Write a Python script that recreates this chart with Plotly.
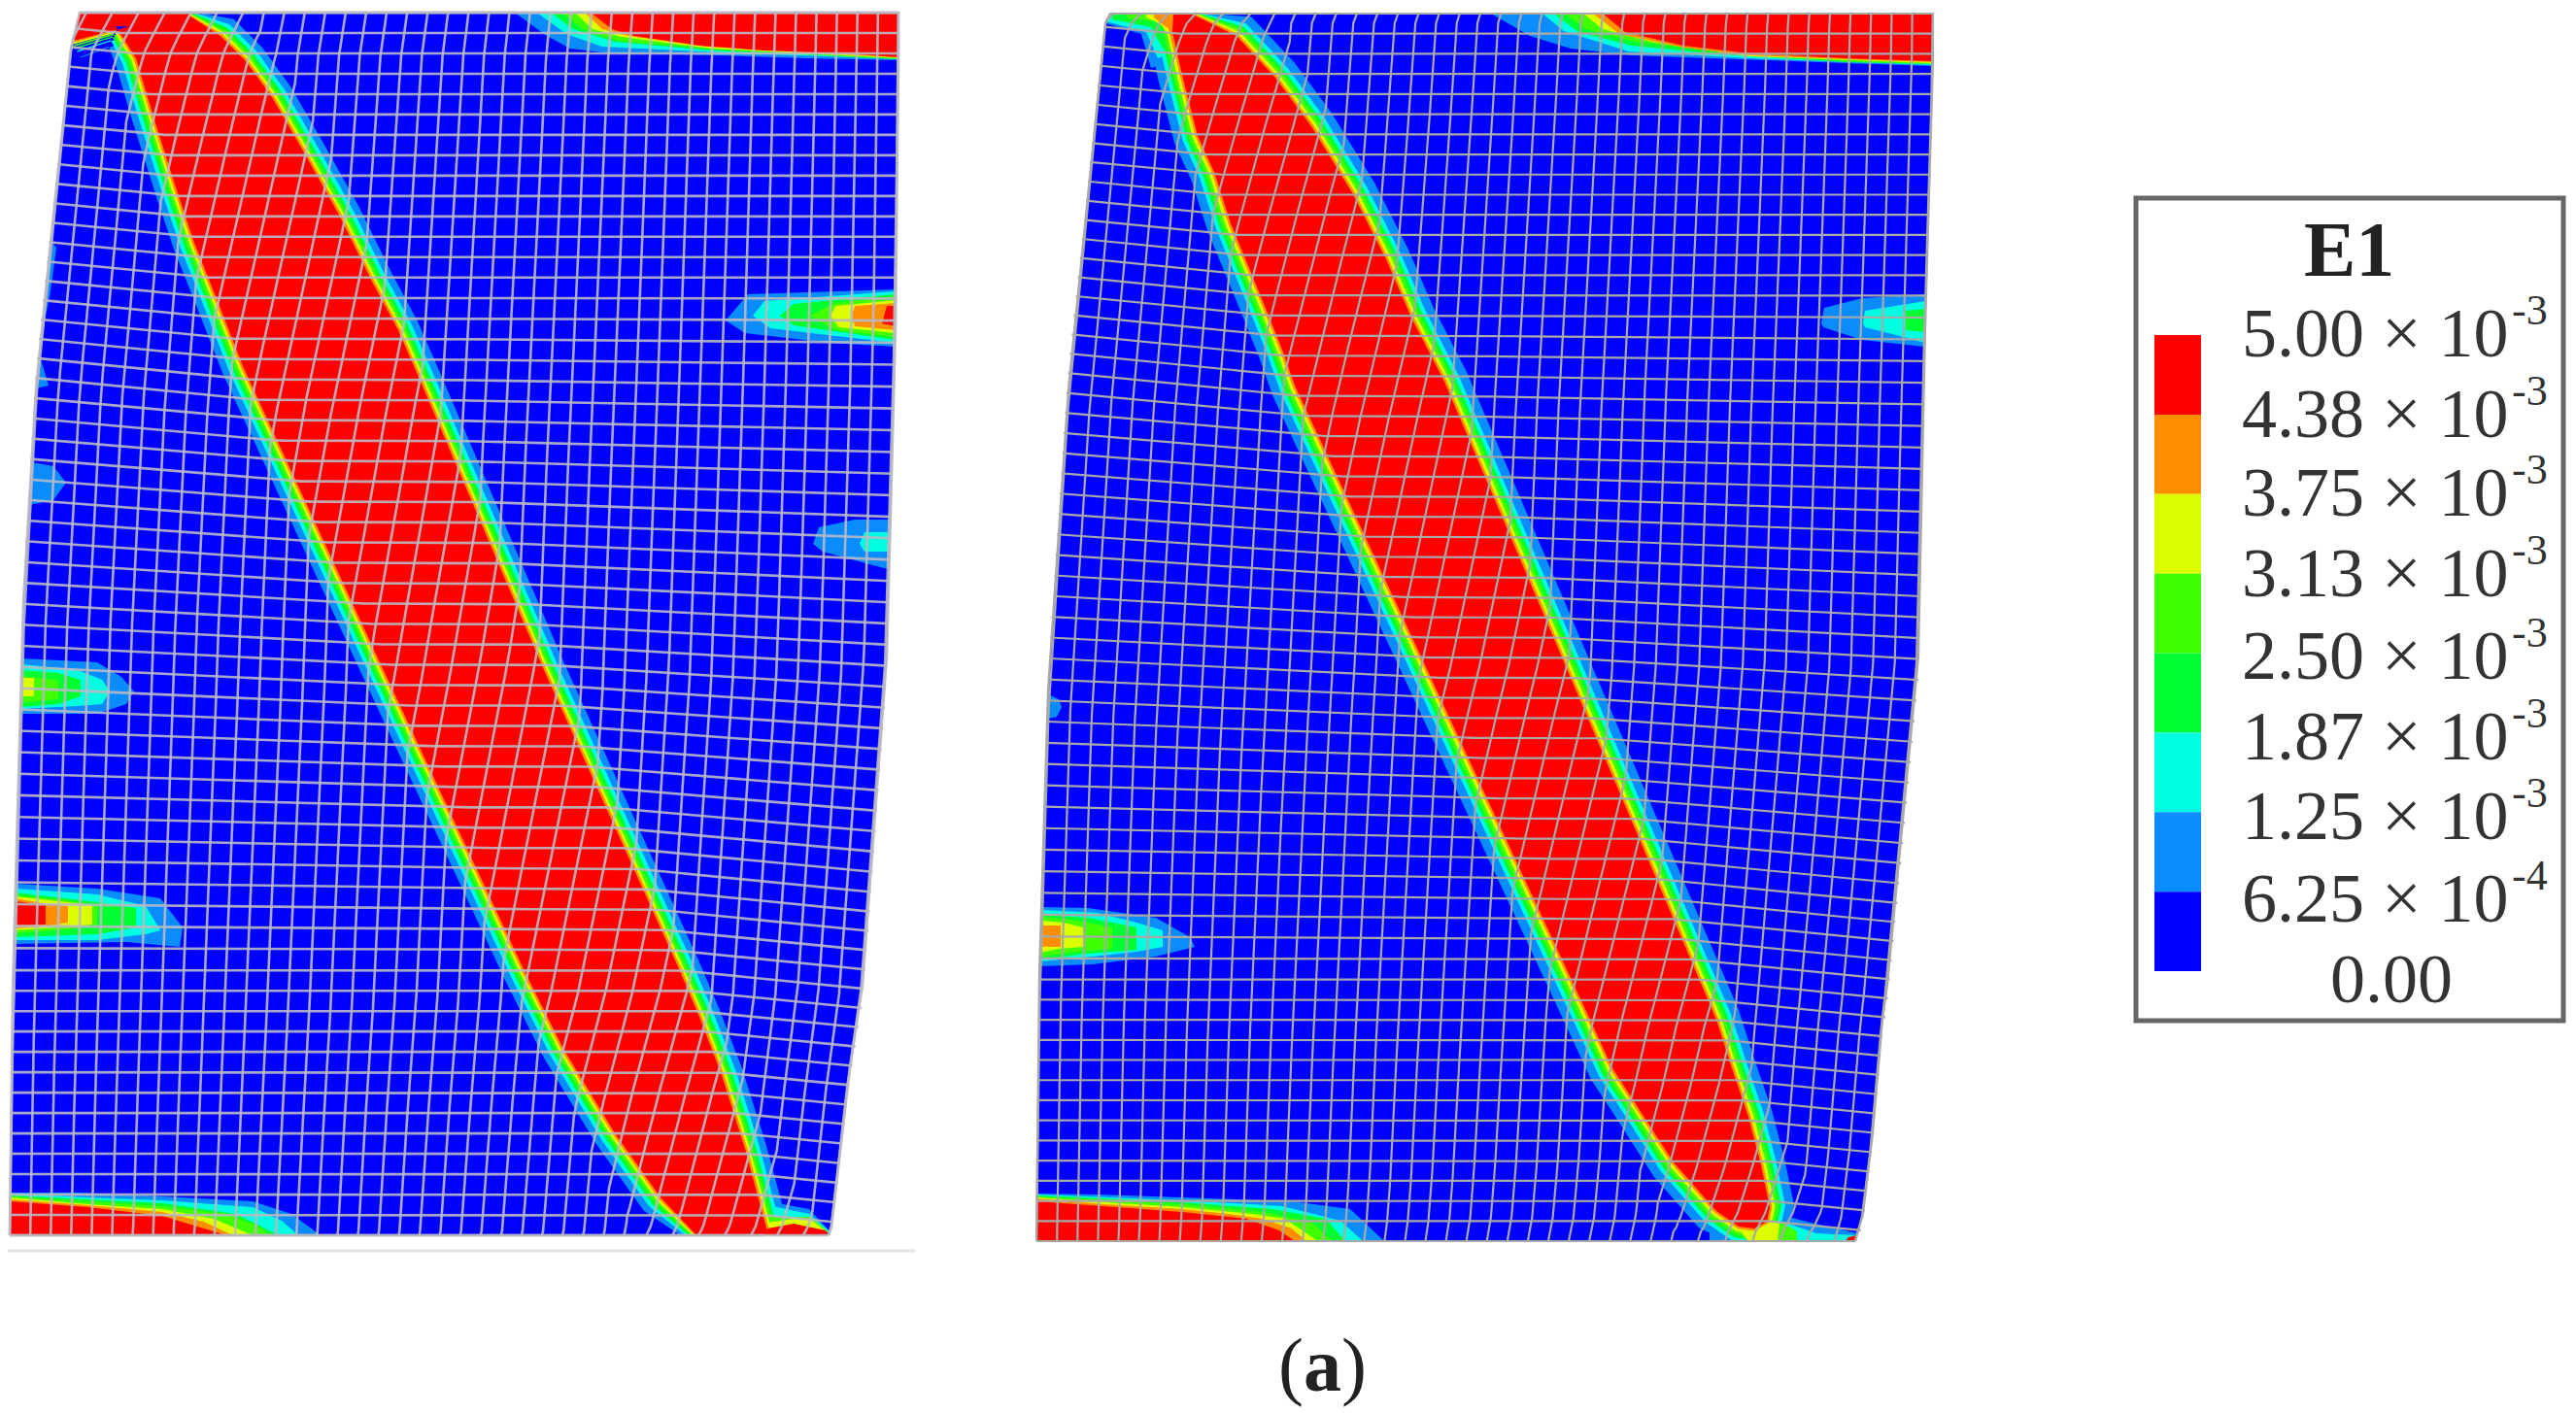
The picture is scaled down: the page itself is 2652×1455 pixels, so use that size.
import numpy as np
import plotly.graph_objects as go

# contour levels, lowest first (index 0 is the plain blue background)
LEVEL_COLORS = ['#0000ff', '#0a8cff', '#00ffe0', '#00ff30', '#40ff00', '#dcff00', '#ff8f00', '#ff0000']

LEGEND_LABELS = ['5.00 × 10', '4.38 × 10', '3.75 × 10', '3.13 × 10', '2.50 × 10', '1.87 × 10', '1.25 × 10', '6.25 × 10']
LEGEND_EXPONENTS = ['-3', '-3', '-3', '-3', '-3', '-3', '-3', '-4']
LEGEND_ZERO = '0.00'
LEGEND_LABEL_Y = [343, 426, 507, 590, 675, 758, 840, 925]

# left panel: specimen outline
L_LEFT = [(82, 13), (73, 50), (52, 250), (37, 400), (24, 620), (13, 1020), (10, 1272)]
L_RIGHT = [(925, 13), (925, 60), (922, 338), (913, 676), (888, 1014), (875, 1100), (863, 1200), (856, 1263), (853, 1272)]

# left panel: red shear band edges
L_BAND_LEFT = [(70, 42), (75, 38), (119, 27), (140, 60), (157, 117), (180, 190), (200, 250), (220, 300), (250, 377),
               (390, 680), (540, 1000), (580, 1080), (633, 1167), (680, 1233), (717, 1272), (730, 1290)]
L_BAND_RIGHT = [(190, 5), (190, 13), (227, 37), (253, 63), (280, 100), (313, 157), (350, 223), (383, 290), (410, 340),
                (433, 393), (560, 690), (700, 1000), (720, 1047), (743, 1107), (767, 1183), (787, 1257), (791, 1290)]
L_BAND_OFFSETS = {1: 22, 2: 15, 3: 11, 4: 8, 5: 5, 6: 2.5, 7: 0}

# left panel: the other contour patches, (level, outline)
L_PATCHES = [
    # top left corner of the band
    (7, [(70, 5), (195, 5), (195, 30), (119, 27), (72, 40)]),
    # top right corner
    (1, [(530, 13), (563, 37), (587, 50), (630, 55), (740, 57), (830, 60), (930, 62), (930, 5)]),
    (2, [(553, 13), (583, 35), (620, 48), (720, 53), (930, 61), (930, 5)]),
    (3, [(567, 13), (590, 30), (633, 43), (733, 52), (930, 61), (930, 5)]),
    (4, [(578, 13), (600, 30), (637, 42), (737, 51), (930, 60), (930, 5)]),
    (5, [(592, 13), (610, 30), (640, 38), (733, 50), (867, 57), (930, 60), (930, 5)]),
    (6, [(602, 13), (620, 30), (647, 37), (727, 48), (867, 56), (930, 59), (930, 5)]),
    (7, [(608, 13), (630, 30), (653, 37), (720, 47), (787, 52), (867, 55), (930, 59), (930, 5)]),
    # bottom left corner
    (1, [(5, 1228), (80, 1228), (167, 1232), (260, 1237), (300, 1250), (330, 1280), (5, 1280)]),
    (2, [(5, 1229), (90, 1233), (167, 1236), (260, 1243), (290, 1257), (307, 1280), (5, 1280)]),
    (3, [(5, 1231), (90, 1235), (167, 1239), (243, 1250), (287, 1280), (5, 1280)]),
    (4, [(5, 1232), (90, 1237), (167, 1242), (233, 1250), (267, 1263), (277, 1280), (5, 1280)]),
    (5, [(5, 1233), (90, 1240), (167, 1245), (220, 1255), (260, 1280), (5, 1280)]),
    (6, [(5, 1235), (90, 1241), (167, 1248), (210, 1258), (240, 1280), (5, 1280)]),
    (7, [(5, 1237), (90, 1243), (167, 1252), (233, 1280), (5, 1280)]),
    # bottom right corner
    (1, [(780, 1230), (795, 1238), (833, 1245), (855, 1268), (790, 1275)]),
    (2, [(785, 1240), (795, 1242), (833, 1250), (854, 1268), (790, 1275)]),
    (4, [(790, 1253), (835, 1253), (853, 1269), (790, 1275)]),
    (5, [(790, 1259), (817, 1255), (835, 1256), (852, 1269), (790, 1275)]),
    (7, [(790, 1265), (817, 1260), (850, 1267), (853, 1275), (790, 1275)]),
    # right edge, large spot
    (1, [(747, 330), (770, 303), (930, 298), (930, 357), (853, 353), (767, 343)]),
    (2, [(775, 325), (787, 310), (930, 300), (930, 353), (793, 338)]),
    (3, [(803, 325), (817, 313), (930, 303), (930, 350), (817, 335)]),
    (4, [(833, 325), (860, 312), (930, 305), (930, 347), (860, 340)]),
    (5, [(855, 325), (860, 315), (930, 309), (930, 343), (863, 337)]),
    (6, [(877, 325), (880, 315), (930, 312), (930, 340), (880, 336)]),
    (7, [(908, 333), (913, 315), (930, 315), (930, 336)]),
    # right edge, small spot
    (1, [(837, 560), (843, 543), (880, 535), (930, 535), (930, 585), (910, 585), (847, 568)]),
    (2, [(885, 560), (890, 548), (930, 548), (930, 568), (890, 568)]),
    # left edge spots
    (1, [(54, 250), (58, 255), (52, 300), (46, 330), (40, 365), (50, 397), (30, 400), (40, 300)]),
    (1, [(20, 476), (55, 480), (68, 497), (55, 515), (20, 520)]),
    (1, [(5, 678), (100, 682), (125, 697), (138, 712), (130, 725), (100, 735), (5, 735)]),
    (2, [(5, 684), (80, 690), (105, 700), (113, 712), (105, 725), (80, 727), (5, 730)]),
    (3, [(5, 690), (60, 693), (83, 700), (83, 717), (60, 725), (5, 728)]),
    (4, [(5, 696), (60, 700), (60, 720), (5, 724)]),
    (5, [(5, 698), (35, 698), (35, 717), (5, 717)]),
    (1, [(5, 910), (100, 915), (165, 925), (188, 955), (185, 975), (130, 970), (5, 972)]),
    (2, [(5, 915), (100, 921), (150, 933), (165, 958), (150, 962), (100, 968), (5, 968)]),
    (3, [(5, 919), (100, 929), (140, 935), (140, 955), (100, 962), (5, 965)]),
    (4, [(5, 922), (70, 927), (100, 933), (100, 952), (70, 957), (5, 961)]),
    (5, [(5, 923), (75, 930), (95, 932), (95, 952), (60, 955), (5, 958)]),
    (6, [(5, 925), (50, 931), (70, 933), (70, 950), (40, 955), (5, 956)]),
    (7, [(5, 928), (47, 932), (47, 952), (5, 953)]),
]

# right panel: specimen outline
R_LEFT = [(1143, 14), (1138, 23), (1100, 400), (1079, 710), (1070, 1000), (1067, 1278)]
R_RIGHT = [(1990, 14), (1990, 62), (1982, 338), (1975, 676), (1943, 1014), (1938, 1050), (1928, 1167), (1918, 1250), (1910, 1278)]

# right panel: red shear band edges
R_BAND_LEFT = [(1208, 5), (1207, 33), (1217, 77), (1233, 140), (1250, 177), (1267, 230), (1300, 310), (1320, 360), (1333, 397),
               (1637, 1050), (1660, 1100), (1680, 1130), (1723, 1197), (1767, 1247), (1790, 1263), (1806, 1265)]
R_BAND_RIGHT = [(1228, 5), (1228, 15), (1273, 37), (1313, 80), (1350, 130), (1393, 200), (1427, 267), (1453, 327), (1487, 393),
                (1767, 1050), (1783, 1100), (1800, 1150), (1813, 1200), (1822, 1243), (1819, 1258), (1806, 1265)]
R_BAND_OFFSETS = {1: 25, 2: 16, 3: 12, 4: 9, 5: 5.5, 6: 2.5, 7: 0}

R_PATCHES = [
    # top left cap of the band
    (1, [(1143, 10), (1200, 10), (1215, 60), (1185, 70), (1175, 35), (1135, 24)]),
    (2, [(1143, 10), (1200, 10), (1215, 50), (1192, 60), (1180, 33), (1135, 22)]),
    (3, [(1145, 10), (1205, 10), (1215, 50), (1197, 50), (1185, 28), (1145, 20)]),
    (4, [(1160, 10), (1205, 10), (1213, 50), (1200, 30), (1190, 22), (1160, 19)]),
    (5, [(1180, 10), (1207, 10), (1212, 60), (1205, 40), (1195, 25), (1180, 18)]),
    (6, [(1188, 10), (1207, 10), (1210, 60), (1203, 30), (1188, 18)]),
    # top right corner
    (1, [(1535, 14), (1575, 37), (1617, 50), (1680, 57), (1900, 65), (1995, 68), (1995, 5)]),
    (2, [(1588, 14), (1610, 32), (1677, 53), (1800, 60), (1995, 67), (1995, 5)]),
    (3, [(1600, 14), (1625, 33), (1680, 47), (1760, 55), (1900, 64), (1995, 66), (1995, 5)]),
    (4, [(1610, 14), (1633, 30), (1683, 43), (1767, 53), (1900, 63), (1995, 66), (1995, 5)]),
    (5, [(1630, 14), (1650, 30), (1700, 43), (1800, 58), (1995, 65), (1995, 5)]),
    (6, [(1640, 14), (1667, 35), (1733, 49), (1800, 57), (1900, 61), (1995, 64), (1995, 5)]),
    (7, [(1650, 14), (1673, 33), (1733, 47), (1800, 55), (1900, 60), (1995, 63), (1995, 5)]),
    # bottom left corner
    (1, [(1060, 1229), (1130, 1230), (1217, 1233), (1330, 1237), (1390, 1245), (1425, 1285), (1060, 1285)]),
    (2, [(1060, 1230), (1137, 1233), (1217, 1236), (1320, 1242), (1380, 1257), (1403, 1285), (1060, 1285)]),
    (3, [(1060, 1231), (1137, 1234), (1217, 1238), (1310, 1245), (1365, 1255), (1385, 1285), (1060, 1285)]),
    (4, [(1060, 1232), (1137, 1236), (1217, 1240), (1300, 1248), (1350, 1258), (1372, 1285), (1060, 1285)]),
    (5, [(1060, 1233), (1137, 1238), (1217, 1243), (1290, 1250), (1323, 1255), (1357, 1285), (1060, 1285)]),
    (6, [(1060, 1234), (1137, 1240), (1217, 1245), (1265, 1250), (1300, 1255), (1330, 1265), (1345, 1285), (1060, 1285)]),
    (7, [(1060, 1237), (1137, 1242), (1217, 1248), (1283, 1255), (1317, 1267), (1333, 1285), (1060, 1285)]),
    # bottom tip of the band
    (1, [(1760, 1240), (1830, 1250), (1860, 1258), (1915, 1270), (1915, 1285), (1760, 1285)]),
    (2, [(1770, 1250), (1835, 1258), (1870, 1270), (1915, 1272), (1915, 1285), (1790, 1285)]),
    (4, [(1785, 1265), (1833, 1258), (1850, 1268), (1850, 1285), (1800, 1285)]),
    (5, [(1787, 1262), (1825, 1258), (1832, 1260), (1830, 1285), (1800, 1285)]),
    (7, [(1903, 1274), (1915, 1272), (1915, 1285), (1900, 1285)]),
    # right edge spot
    (1, [(1875, 333), (1878, 317), (1917, 307), (1995, 303), (1995, 357), (1917, 350), (1877, 337)]),
    (2, [(1918, 333), (1920, 320), (1995, 310), (1995, 353), (1960, 347), (1920, 337)]),
    (3, [(1962, 320), (1995, 318), (1995, 342), (1962, 340)]),
    # left edge spots
    (1, [(1060, 715), (1090, 720), (1093, 728), (1088, 738), (1060, 740)]),
    (1, [(1060, 934), (1120, 935), (1190, 945), (1225, 965), (1230, 975), (1190, 985), (1125, 993), (1060, 995)]),
    (2, [(1060, 937), (1130, 940), (1170, 950), (1197, 958), (1197, 975), (1170, 980), (1125, 985), (1060, 990)]),
    (3, [(1060, 942), (1120, 945), (1170, 955), (1170, 978), (1120, 982), (1060, 988)]),
    (4, [(1060, 944), (1110, 948), (1145, 955), (1145, 977), (1110, 980), (1060, 985)]),
    (5, [(1060, 948), (1095, 950), (1115, 955), (1115, 975), (1090, 977), (1060, 981)]),
    (6, [(1060, 953), (1092, 953), (1092, 975), (1060, 975)]),
]

L_MESH = dict(rows=60, cols=40, shear=21, line='rgba(185,185,195,0.9)', width=2.6)
R_MESH = dict(rows=61, cols=40, shear=21, line='#a9a9a9', width=2.2)


def xy(points):
    arr = np.array(points, dtype=float)
    return arr[:, 0], arr[:, 1]


def ascending(points):
    # keep only the run of points where y keeps growing, np.interp needs that
    x, y = xy(points)
    keep = [len(y) - 1]
    for i in range(len(y) - 2, -1, -1):
        if y[i] < y[keep[-1]]:
            keep.append(i)
    keep = keep[::-1]
    return y[keep], x[keep]


def offset_line(points, d, side):
    x, y = xy(points)
    dx, dy = np.gradient(x), np.gradient(y)
    n = np.hypot(dx, dy)
    return x - side * d * dy / n, y + side * d * dx / n


def add_panel(fig, left, right, band_left, band_right, band_offsets, patches, mesh):
    left_y, left_x = ascending(left)
    right_y, right_x = ascending(right)
    top, bottom = left_y[0], left_y[-1]

    def x_left(y):
        return np.interp(y, left_y, left_x)

    def x_right(y):
        return np.interp(y, right_y, right_x)

    def add_fill(x, y, color):
        y = np.clip(y, top, bottom)
        x = np.clip(x, x_left(y), x_right(y))
        fig.add_trace(go.Scatter(x=x, y=y, mode='lines', fill='toself', fillcolor=color,
                                 line=dict(width=0), hoverinfo='skip', showlegend=False))

    ox, oy = xy(left[::-1] + right)
    fig.add_trace(go.Scatter(x=ox, y=oy, mode='lines', fill='toself', fillcolor=LEVEL_COLORS[0],
                             line=dict(width=0), hoverinfo='skip', showlegend=False))

    for level in range(1, 8):
        lx, ly = offset_line(band_left, band_offsets[level], 1)
        # right edge runs down the one side, left edge back up the other
        rx, ry = offset_line(band_right, band_offsets[level], -1)
        add_fill(np.r_[rx, lx[::-1]], np.r_[ry, ly[::-1]], LEVEL_COLORS[level])
        for patch_level, pts in patches:
            if patch_level == level:
                px, py = xy(pts)
                add_fill(px, py, LEVEL_COLORS[level])

    # mesh lines, sheared where they cross the band
    bl_y, bl_x = ascending(band_left)
    br_y, br_x = ascending(band_right)
    band_half = np.mean(np.interp(np.linspace(top, bottom, 50), br_y, br_x)
                        - np.interp(np.linspace(top, bottom, 50), bl_y, bl_x)) / 2

    mx, my = [], []
    ys = np.linspace(top, bottom, 260)
    for j in range(-4, mesh['cols'] + 5):
        u = j / mesh['cols']
        base = x_left(ys) + u * (x_right(ys) - x_left(ys))
        centre = (np.interp(ys, bl_y, bl_x) + np.interp(ys, br_y, br_x)) / 2
        x = base + mesh['shear'] * np.clip((base - centre) / band_half, -1, 1)
        x[(x < x_left(ys)) | (x > x_right(ys))] = np.nan
        mx += list(x) + [None]
        my += list(ys) + [None]
    step = (bottom - top) / mesh['rows']
    for k in range(-3, mesh['rows'] + 4):
        row = top + k * step
        xs = np.linspace(x_left(row), x_right(row), 90)
        up_left = np.clip((1000 - row) / 600, 0, 1) * 0.1 * np.maximum(0, np.interp(row, bl_y, bl_x) - xs)
        down_right = np.clip((row - 300) / 600, 0, 1) * 0.1 * np.maximum(0, xs - np.interp(row, br_y, br_x))
        y = row - up_left + down_right
        y[(y < top) | (y > bottom)] = np.nan
        mx += list(xs) + [None]
        my += list(y) + [None]
    fig.add_trace(go.Scatter(x=mx, y=my, mode='lines', line=dict(color=mesh['line'], width=mesh['width']),
                             connectgaps=False, hoverinfo='skip', showlegend=False))
    fig.add_trace(go.Scatter(x=ox, y=oy, mode='lines', line=dict(color=mesh['line'], width=mesh['width']),
                             hoverinfo='skip', showlegend=False))
    ex, ey = xy([left[0], right[0]])
    fig.add_trace(go.Scatter(x=ex, y=ey, mode='lines', line=dict(color=mesh['line'], width=mesh['width']),
                             hoverinfo='skip', showlegend=False))
    ex, ey = xy([left[-1], right[-1]])
    fig.add_trace(go.Scatter(x=ex, y=ey, mode='lines', line=dict(color=mesh['line'], width=mesh['width']),
                             hoverinfo='skip', showlegend=False))


fig = go.Figure()
add_panel(fig, L_LEFT, L_RIGHT, L_BAND_LEFT, L_BAND_RIGHT, L_BAND_OFFSETS, L_PATCHES, L_MESH)
add_panel(fig, R_LEFT, R_RIGHT, R_BAND_LEFT, R_BAND_RIGHT, R_BAND_OFFSETS, R_PATCHES, R_MESH)

# thin rule under the left panel
fig.add_shape(type='line', x0=0, x1=942, y0=1288, y1=1288, line=dict(color='#e4e4e4', width=3))

# legend box
fig.add_shape(type='rect', x0=2199, x1=2639, y0=204, y1=1051, line=dict(color='#666666', width=5))
seg_h = (1000 - 345) / 8
for i in range(8):
    fig.add_trace(go.Bar(x=[2242], y=[seg_h], base=[345 + i * seg_h], width=[48],
                         marker=dict(color=LEVEL_COLORS[7 - i], line=dict(width=0)),
                         hoverinfo='skip', showlegend=False))

serif = 'Liberation Serif'
fig.add_annotation(x=2418, y=257, text='<b>E1</b>', showarrow=False, xanchor='center', yanchor='middle',
                   font=dict(family=serif, size=80, color='#222222'))
for label, exponent, y in zip(LEGEND_LABELS, LEGEND_EXPONENTS, LEGEND_LABEL_Y):
    fig.add_annotation(x=2306, y=y, text=label, showarrow=False, xanchor='left', yanchor='middle',
                       font=dict(family=serif, size=72, color='#333333'))
    fig.add_annotation(x=2584, y=y - 24, text=exponent, showarrow=False, xanchor='left', yanchor='middle',
                       font=dict(family=serif, size=44, color='#333333'))
fig.add_annotation(x=2462, y=1008, text=LEGEND_ZERO, showarrow=False, xanchor='center', yanchor='middle',
                   font=dict(family=serif, size=72, color='#333333'))
fig.add_annotation(x=1361, y=1405, text='(<b>a</b>)', showarrow=False, xanchor='center', yanchor='middle',
                   font=dict(family=serif, size=78, color='#222222'))

# the page body has an 8px margin, so the canvas is placed to make the axes read in page pixels
fig.update_layout(width=2640, height=1446, margin=dict(l=0, r=0, t=0, b=0),
                  paper_bgcolor='white', plot_bgcolor='white', barmode='overlay', showlegend=False,
                  xaxis=dict(range=[8, 2648], visible=False, fixedrange=True),
                  yaxis=dict(range=[1454, 8], visible=False, fixedrange=True))

fig.write_html("out.html")
